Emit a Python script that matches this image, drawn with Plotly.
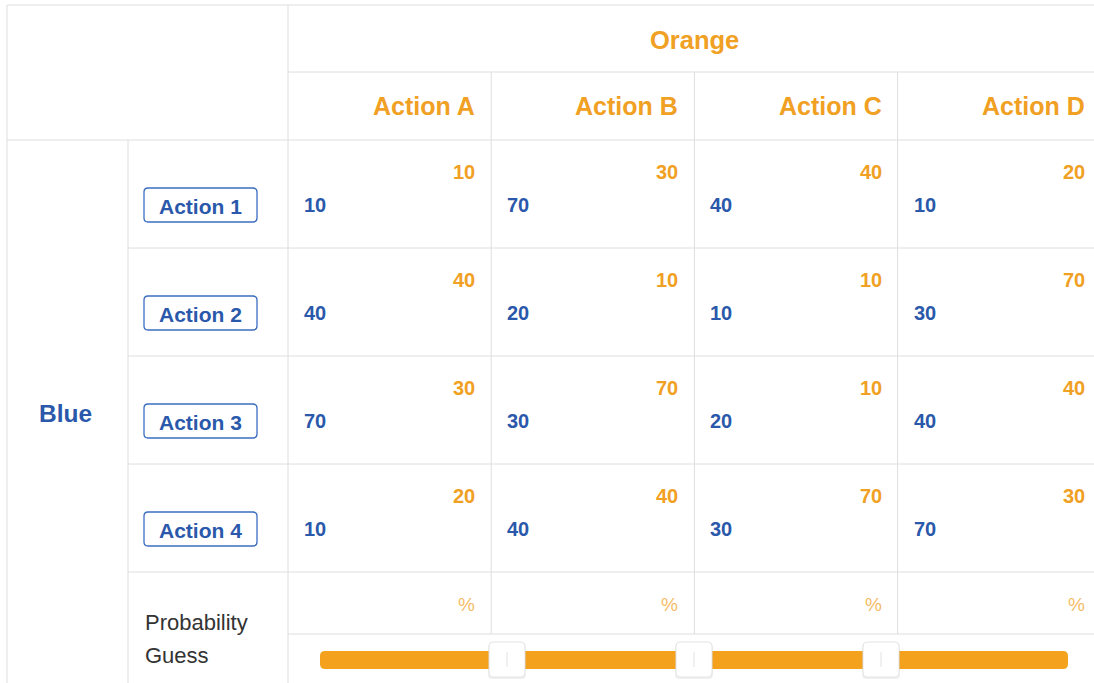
import plotly.graph_objects as go

# ---------------- data ----------------
col_player = "Orange"
row_player = "Blue"
col_actions = ["Action A", "Action B", "Action C", "Action D"]
row_actions = ["Action 1", "Action 2", "Action 3", "Action 4"]
orange_payoffs = [
    [10, 30, 40, 20],
    [40, 10, 10, 70],
    [30, 70, 10, 40],
    [20, 40, 70, 30],
]
blue_payoffs = [
    [10, 70, 40, 10],
    [40, 20, 10, 30],
    [70, 30, 20, 40],
    [10, 40, 30, 70],
]
guess_label = ["Probability", "Guess"]
guess_unit = "%"
slider_handles = [25, 50, 75]

# ---------------- layout constants ----------------
W, H = 1094, 683
ORANGE = "#F0A023"
ORANGE_LIGHT = "rgba(240,160,35,0.72)"
BLUE = "#2A58AA"
GRID = "#DEDEDE"
FONT = "Liberation Sans"

left_edge = 7
top_edge = 5
split_x = 128
grid_x0 = 288
col_w = 203.2
header_mid = 72
header_bot = 140
row_h = 108
slider_top = 634
pad = 14

col_edges = [grid_x0 + i * col_w for i in range(len(col_actions) + 1)]
row_edges = [header_bot + i * row_h for i in range(len(row_actions) + 1)]

fig = go.Figure()
fig.add_trace(go.Scatter(x=[0, W], y=[0, H], mode="markers",
                         marker=dict(opacity=0), hoverinfo="skip", showlegend=False))

shapes = []
annotations = []


def line(x0, y0, x1, y1, color=GRID, width=1, layer="below"):
    shapes.append(dict(type="line", xref="x", yref="y", x0=x0, y0=y0, x1=x1, y1=y1,
                       line=dict(color=color, width=width), layer=layer))


def rrect(x0, y0, x1, y1, r, fill, lc=None, lw=0, layer="above"):
    p = (f"M {x0+r},{y0} L {x1-r},{y0} Q {x1},{y0} {x1},{y0+r} "
         f"L {x1},{y1-r} Q {x1},{y1} {x1-r},{y1} L {x0+r},{y1} "
         f"Q {x0},{y1} {x0},{y1-r} L {x0},{y0+r} Q {x0},{y0} {x0+r},{y0} Z")
    shapes.append(dict(type="path", xref="x", yref="y", path=p, fillcolor=fill,
                       line=dict(color=lc if lc else fill, width=lw), layer=layer))


def text(x, y, s, size, color, xanchor="center", bold=True):
    annotations.append(dict(x=x, y=y, xref="x", yref="y", text=s, showarrow=False,
                            xanchor=xanchor, yanchor="middle",
                            font=dict(family=FONT, size=size, color=color,
                                      weight="bold" if bold else "normal")))


# grid lines
line(left_edge, top_edge, W, top_edge)
line(left_edge, top_edge, left_edge, H)
line(grid_x0, header_mid, W, header_mid)
line(left_edge, header_bot, W, header_bot)
line(grid_x0, top_edge, grid_x0, H)
line(split_x, header_bot, split_x, H)
for xe in col_edges[1:-1]:
    line(xe, header_mid, xe, slider_top)
for ye in row_edges[1:]:
    line(split_x, ye, W, ye)
line(grid_x0, slider_top, W, slider_top)

# headers
text((grid_x0 + col_edges[-1]) / 2, 40, col_player, 25.5, ORANGE)
for j, name in enumerate(col_actions):
    text(col_edges[j + 1] - pad, 106, name, 25, ORANGE, xanchor="right")

text((left_edge + split_x) / 2 - 2, 413, row_player, 24.5, BLUE)

# rows
for i, name in enumerate(row_actions):
    top = row_edges[i]
    cy = top + 65
    rrect(144, cy - 17, 257, cy + 17, 4, "white", "#3B6DC2", 1.3)
    text(200.5, cy + 1, name, 21, BLUE)
    for j in range(len(col_actions)):
        text(col_edges[j + 1] - pad, top + 32, str(orange_payoffs[i][j]), 20, ORANGE, xanchor="right")
        text(col_edges[j] + pad, cy, str(blue_payoffs[i][j]), 20, BLUE, xanchor="left")

# probability guess row
text(143, 622, guess_label[0], 22, "#333333", xanchor="left", bold=False)
text(143, 655, guess_label[1], 22, "#333333", xanchor="left", bold=False)
for j in range(len(col_actions)):
    text(col_edges[j + 1] - pad, 604, guess_unit, 19, ORANGE_LIGHT, xanchor="right", bold=False)

# slider
s0, s1 = 320, 1068
rrect(s0, 651, s1, 669, 5, "#F4A11E")
for v in slider_handles:
    hx = s0 + (s1 - s0) * v / 100.0
    rrect(hx - 19, 643, hx + 19, 679, 4, "rgba(0,0,0,0.06)")
    rrect(hx - 18, 642, hx + 18, 677, 4, "white", "#E4E4E4", 1)
    line(hx, 652, hx, 667, color="#E2E2E2", width=1, layer="above")

fig.update_layout(
    width=W, height=H,
    margin=dict(l=0, r=0, t=0, b=0),
    paper_bgcolor="white", plot_bgcolor="white",
    xaxis=dict(range=[0, W], visible=False, fixedrange=True),
    yaxis=dict(range=[H, 0], visible=False, fixedrange=True),
    shapes=shapes, annotations=annotations, showlegend=False,
)

fig.write_html("out.html", config={"displayModeBar": False},
               post_script="document.body.style.margin='0';document.body.style.overflow='hidden';")
